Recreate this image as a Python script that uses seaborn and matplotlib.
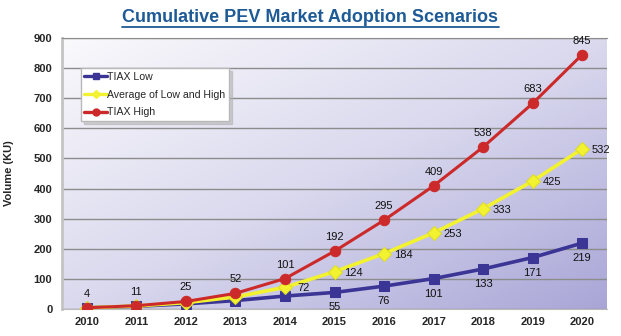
import numpy as np
import pandas as pd
import matplotlib
matplotlib.use("Agg")
import matplotlib.pyplot as plt
import seaborn as sns
from matplotlib.colors import LinearSegmentedColormap
from matplotlib.lines import Line2D

years = [2010, 2011, 2012, 2013, 2014, 2015, 2016, 2017, 2018, 2019, 2020]
tiax_low = [4, 9, 17, 28, 43, 55, 76, 101, 133, 171, 219]
tiax_avg = [4, 10, 21, 40, 72, 124, 184, 253, 333, 425, 532]
tiax_high = [4, 11, 25, 52, 101, 192, 295, 409, 538, 683, 845]
series_names = ["TIAX Low", "Average of Low and High", "TIAX High"]
y_ticks = [0, 100, 200, 300, 400, 500, 600, 700, 800, 900]

# which points carry a value label
low_labelled = [2015, 2016, 2017, 2018, 2019, 2020]
avg_labelled = [2014, 2015, 2016, 2017, 2018, 2019, 2020]
high_labelled = years

sns.set_style("white")
plt.rcParams["font.family"] = ["Liberation Sans", "DejaVu Sans"]

fig = plt.figure(figsize=(6.21, 3.36), dpi=100)
ax = fig.add_axes([62 / 621, 1 - 309 / 336, 545 / 621, 271 / 336])

# diagonal background gradient: pale at top-left, lavender at bottom-right
cmap = LinearSegmentedColormap.from_list("bg", ["#faf9fc", "#dad9ee", "#a9a6d7"])
gx, gy = np.meshgrid(np.linspace(0, 1, 200), np.linspace(0, 1, 200))
grad = (gx + gy) / 2
ax.imshow(grad, cmap=cmap, extent=[2009.5, 2020.5, 0, 900], origin="upper",
          aspect="auto", zorder=0, interpolation="bicubic")

colors = {"low": "#3b3596", "avg": "#f2f230", "high": "#cc2a2a"}
edges = {"low": "#3b3596", "avg": "#dede22", "high": "#cc2a2a"}
df = pd.DataFrame({"year": years, "low": tiax_low, "avg": tiax_avg, "high": tiax_high})

sns.lineplot(data=df, x="year", y="low", ax=ax, color=colors["low"], lw=2.6,
             marker="s", markersize=7, markeredgecolor=edges["low"], zorder=4)
sns.lineplot(data=df, x="year", y="avg", ax=ax, color=colors["avg"], lw=2.6,
             marker="D", markersize=7, markeredgecolor=edges["avg"], zorder=5)
sns.lineplot(data=df, x="year", y="high", ax=ax, color=colors["high"], lw=2.2,
             marker="o", markersize=7.5, markeredgecolor=edges["high"], zorder=6)

for yr, v in zip(years, tiax_high):
    if yr in high_labelled:
        ax.annotate(str(v), (yr, v), xytext=(0, 14), textcoords="offset pixels",
                    ha="center", va="center", fontsize=8, color="#111111", zorder=8)
for yr, v in zip(years, tiax_avg):
    if yr in avg_labelled:
        ax.annotate(str(v), (yr, v), xytext=(19, -1), textcoords="offset pixels",
                    ha="center", va="center", fontsize=8, color="#111111", zorder=8)
for yr, v in zip(years, tiax_low):
    if yr in low_labelled:
        ax.annotate(str(v), (yr, v), xytext=(0, -15), textcoords="offset pixels",
                    ha="center", va="center", fontsize=8, color="#111111", zorder=8)

ax.set_xlim(2009.5, 2020.5)
ax.set_ylim(0, 900)
ax.set_xticks(years)
ax.set_xticklabels([str(y) for y in years], fontweight="bold", fontsize=8)
ax.set_yticks(y_ticks)
ax.set_yticklabels([str(t) for t in y_ticks], fontweight="bold", fontsize=8)
ax.tick_params(axis="x", length=0, pad=6)
ax.tick_params(axis="y", length=2, color="#888888", pad=5)
ax.yaxis.grid(True, color="#8c8c8c", lw=1)
for ln in ax.get_ygridlines():
    ln.set_zorder(1)
ax.set_xlabel("")
ax.set_ylabel("Volume (KU)", fontweight="bold", fontsize=8, labelpad=14)

ax.spines["left"].set_color("#c4c4c4")
ax.spines["left"].set_linewidth(2)
ax.spines["top"].set_color("#8c8c8c")
ax.spines["right"].set_visible(False)
ax.spines["bottom"].set_color("#bbbbbb")

handles = [
    Line2D([], [], color=colors["low"], lw=2.4, marker="s", markersize=4.5),
    Line2D([], [], color=colors["avg"], lw=2.4, marker="D", markersize=4.5),
    Line2D([], [], color=colors["high"], lw=2.4, marker="o", markersize=5),
]
leg = ax.legend(handles, series_names, loc="upper left",
                bbox_to_anchor=(0.0345, 0.888), frameon=True, fancybox=False,
                shadow={"color": "#b0b0b0", "alpha": 0.55, "ox": 2, "oy": -2},
                fontsize=7.6, handlelength=2.1, handletextpad=0.05,
                borderpad=0.35, labelspacing=0.72, borderaxespad=0)
leg.get_frame().set_edgecolor("#b8b8b8")
leg.get_frame().set_facecolor("white")
leg.set_zorder(10)

title = fig.text(0.5, 1 - 17 / 336, "Cumulative PEV Market Adoption Scenarios",
                 ha="center", va="center", fontsize=13, fontweight="bold",
                 color="#1d5a96")
fig.canvas.draw()
bb = title.get_window_extent().transformed(fig.transFigure.inverted())
fig.add_artist(Line2D([bb.x0, bb.x1], [bb.y0 - 0.004, bb.y0 - 0.004],
                      transform=fig.transFigure, color="#1d5a96", lw=1.3))

fig.savefig("out.png", dpi=100)
